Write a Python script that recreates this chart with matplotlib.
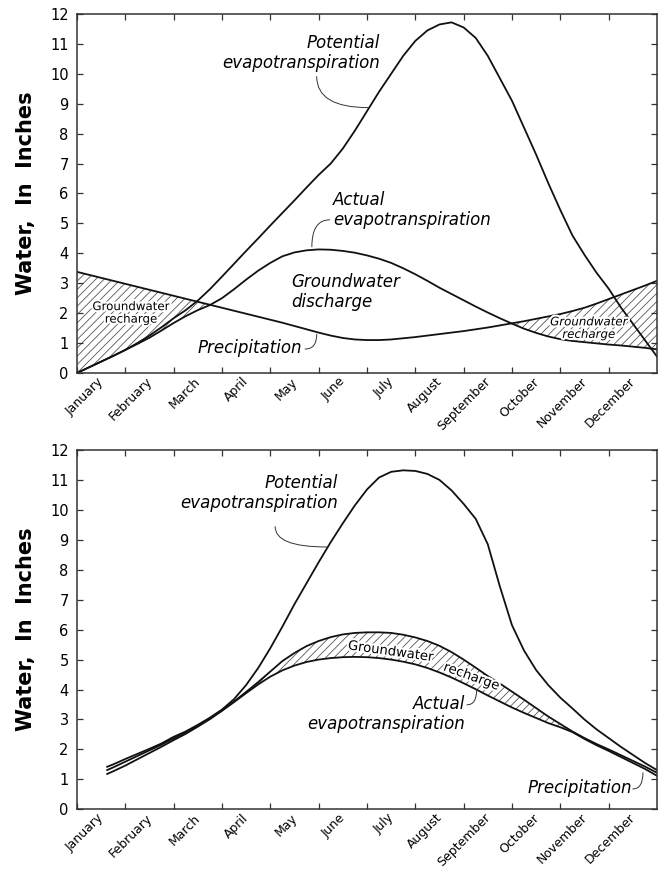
import numpy as np
import matplotlib
matplotlib.use('Agg')
import matplotlib.pyplot as plt
import matplotlib.patheffects as pe

plt.rcParams['font.family'] = ['DejaVu Sans']
plt.rcParams['hatch.linewidth'] = 0.6

months = ['January', 'February', 'March', 'April', 'May', 'June', 'July',
          'August', 'September', 'October', 'November', 'December']

# Upper panel: water surplus in winter, deficit in summer
x_top = np.arange(0, 12.01, 0.25)
pet_top = [0.0, 0.19, 0.38, 0.57, 0.77, 1.0, 1.25, 1.53, 1.83, 2.1, 2.42, 2.8,
           3.22, 3.65, 4.08, 4.5, 4.93, 5.35, 5.77, 6.2, 6.62, 7.0, 7.5, 8.1,
           8.75, 9.4, 10.0, 10.6, 11.1, 11.45, 11.65, 11.72, 11.55, 11.2, 10.6,
           9.85, 9.1, 8.2, 7.3, 6.35, 5.45, 4.6, 3.95, 3.35, 2.82, 2.2, 1.65,
           1.1, 0.55]
aet_top = [0.0, 0.19, 0.38, 0.57, 0.77, 0.97, 1.18, 1.42, 1.67, 1.9, 2.1, 2.27,
           2.5, 2.8, 3.12, 3.42, 3.68, 3.9, 4.03, 4.1, 4.13, 4.12, 4.08, 4.02,
           3.93, 3.82, 3.68, 3.5, 3.3, 3.08, 2.85, 2.64, 2.43, 2.22, 2.02, 1.83,
           1.65, 1.48, 1.34, 1.22, 1.13, 1.07, 1.03, 0.99, 0.95, 0.92, 0.88,
           0.84, 0.79]
precip_top = [3.38, 3.28, 3.18, 3.08, 2.98, 2.88, 2.78, 2.68, 2.58, 2.48, 2.38,
              2.28, 2.18, 2.08, 1.98, 1.88, 1.78, 1.68, 1.57, 1.46, 1.35, 1.25,
              1.17, 1.12, 1.1, 1.1, 1.12, 1.16, 1.2, 1.25, 1.3, 1.35, 1.4, 1.46,
              1.52, 1.59, 1.66, 1.73, 1.81, 1.89, 1.97, 2.07, 2.18, 2.32, 2.47,
              2.62, 2.77, 2.92, 3.08]

# Lower panel: wet summer, recharge from June through September
x_bot = np.concatenate([[0.625], np.arange(0.75, 12.01, 0.25)])
pet_bot = [1.42, 1.5, 1.68, 1.85, 2.02, 2.2, 2.42, 2.6, 2.82, 3.06, 3.33, 3.68,
           4.15, 4.72, 5.38, 6.1, 6.85, 7.55, 8.25, 8.92, 9.55, 10.15, 10.68,
           11.08, 11.27, 11.32, 11.3, 11.2, 11.0, 10.65, 10.2, 9.7, 8.85, 7.44,
           6.15, 5.3, 4.65, 4.15, 3.73, 3.37, 3.0, 2.67, 2.38, 2.09, 1.82, 1.55,
           1.31]
precip_bot = [1.31, 1.4, 1.59, 1.78, 1.97, 2.16, 2.37, 2.57, 2.79, 3.03, 3.3,
              3.6, 3.92, 4.25, 4.6, 4.95, 5.22, 5.45, 5.62, 5.75, 5.84, 5.89,
              5.91, 5.91, 5.89, 5.83, 5.74, 5.62, 5.46, 5.25, 5.0, 4.73, 4.45,
              4.2, 3.93, 3.66, 3.38, 3.1, 2.85, 2.6, 2.38, 2.18, 2.0, 1.81,
              1.62, 1.43, 1.22]
aet_bot = [1.18, 1.27, 1.46, 1.67, 1.88, 2.09, 2.31, 2.52, 2.76, 3.01, 3.29,
           3.58, 3.88, 4.17, 4.43, 4.64, 4.8, 4.92, 5.0, 5.05, 5.08, 5.09, 5.08,
           5.05, 5.0, 4.93, 4.84, 4.72, 4.57, 4.4, 4.21, 4.01, 3.8, 3.6, 3.4,
           3.22, 3.05, 2.88, 2.74, 2.58, 2.35, 2.14, 1.95, 1.75, 1.55, 1.35,
           1.12]

LINE = '#111111'
HATCH = '#555555'
halo = [pe.withStroke(linewidth=3, foreground='white')]


def setup_axes(ax):
    ax.set_xlim(0, 12)
    ax.set_ylim(0, 12)
    ax.set_yticks(range(13))
    ax.set_xticks(range(12))
    ax.set_xticklabels([])
    ax.set_xticks(np.arange(12) + 0.42, months, minor=True)
    ax.tick_params(which='major', direction='in', length=4, width=0.9,
                   top=True, right=True, color='#333333', labelsize=10.5, pad=6)
    ax.tick_params(axis='x', which='minor', length=0, pad=1.5, labelsize=9)
    for lbl in ax.get_xticklabels(minor=True):
        lbl.set_rotation(45)
        lbl.set_rotation_mode('anchor')
        lbl.set_ha('right')
        lbl.set_va('top')
    for sp in ax.spines.values():
        sp.set_color('#333333')
        sp.set_linewidth(1.1)
    ax.set_ylabel('Water,  In  Inches', fontsize=15, fontweight='bold')
    ax.yaxis.set_label_coords(-0.07, 0.5)


def leader(ax, start, end, angle_a, angle_b):
    ax.annotate('', xy=end, xytext=start,
                arrowprops=dict(arrowstyle='-', lw=0.7, color='#333333',
                                shrinkA=0, shrinkB=0,
                                connectionstyle=f'angle3,angleA={angle_a},angleB={angle_b}'))


fig = plt.figure(figsize=(6.59, 8.69), dpi=100)
ax1 = fig.add_axes([0.1168, 0.5708, 0.8801, 0.4131])
ax2 = fig.add_axes([0.1168, 0.0687, 0.8801, 0.4135])

# --- upper panel ---
setup_axes(ax1)
p = np.array(precip_top)
a = np.array(aet_top)
ax1.fill_between(x_top, a, p, where=p >= a, interpolate=True,
                 facecolor='none', edgecolor=HATCH, hatch='////', linewidth=0)
ax1.plot(x_top, pet_top, color=LINE, lw=1.3)
ax1.plot(x_top, aet_top, color=LINE, lw=1.3)
ax1.plot(x_top, precip_top, color=LINE, lw=1.3)

ax1.text(6.27, 10.71, 'Potential\nevapotranspiration', style='italic',
         fontsize=12, ha='right', va='center', linespacing=1.15)
leader(ax1, (4.96, 9.91), (6.03, 8.87), 90, 0)
ax1.text(5.30, 5.45, 'Actual\nevapotranspiration', style='italic',
         fontsize=12, ha='left', va='center', linespacing=1.15)
leader(ax1, (5.23, 5.12), (4.86, 4.22), 0, 90)
ax1.text(4.44, 2.70, 'Groundwater\ndischarge', style='italic',
         fontsize=12, ha='left', va='center', linespacing=1.15)
ax1.text(4.65, 0.83, 'Precipitation', style='italic', fontsize=12,
         ha='right', va='center')
leader(ax1, (4.72, 0.80), (4.96, 1.29), 0, 90)
ax1.text(1.12, 2.01, 'Groundwater\nrecharge', fontsize=8.5, ha='center',
         va='center', linespacing=0.95, path_effects=halo)
ax1.text(10.59, 1.50, 'Groundwater\nrecharge', fontsize=8.5, style='italic',
         ha='center', va='center', linespacing=0.95, path_effects=halo)

# --- lower panel ---
setup_axes(ax2)
p = np.array(precip_bot)
a = np.array(aet_bot)
ax2.fill_between(x_bot, a, p, where=(x_bot >= 3.0) & (x_bot <= 10.25),
                 interpolate=True, facecolor='none', edgecolor=HATCH,
                 hatch='////', linewidth=0)
ax2.plot(x_bot, pet_bot, color=LINE, lw=1.3)
ax2.plot(x_bot, precip_bot, color=LINE, lw=1.3)
ax2.plot(x_bot, aet_bot, color=LINE, lw=1.3)

ax2.text(5.40, 10.57, 'Potential\nevapotranspiration', style='italic',
         fontsize=12, ha='right', va='center', linespacing=1.15)
leader(ax2, (4.10, 9.44), (5.17, 8.76), 90, 0)
ax2.text(6.50, 5.26, 'Groundwater', fontsize=9.5, rotation=-8,
         ha='center', va='center', path_effects=halo)
ax2.text(8.17, 4.42, 'recharge', fontsize=9.5, rotation=-20,
         ha='center', va='center', path_effects=halo)
ax2.text(8.03, 3.17, 'Actual\nevapotranspiration', style='italic',
         fontsize=12, ha='right', va='center', linespacing=1.15)
leader(ax2, (8.07, 3.49), (8.27, 3.99), 0, 90)
ax2.text(11.48, 0.70, 'Precipitation', style='italic', fontsize=12,
         ha='right', va='center')
leader(ax2, (11.50, 0.68), (11.71, 1.22), 0, 90)

fig.savefig('out.png', dpi=100)
